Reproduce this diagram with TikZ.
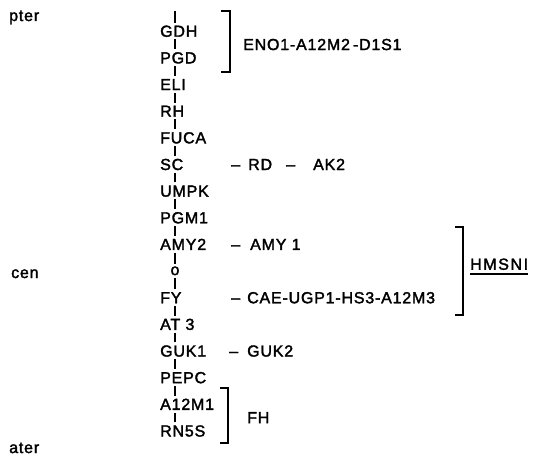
\documentclass[tikz,border=0pt]{standalone}
\usepackage{fontspec}
\setmainfont{Liberation Sans}[LetterSpace=5,FakeBold=2]
\begin{document}
\begin{tikzpicture}[x=1pt,y=-1pt,
  every node/.style={inner sep=0pt, font=\fontsize{16}{19}\selectfont},
  locus/.style={anchor=west, text height=11.5pt, text depth=0pt},
  armlabel/.style={anchor=base west},
  spine/.style={line width=1.4pt, shorten <=2.5pt, shorten >=2.5pt},
  bracket/.style={line width=1.6pt},
  side/.style={anchor=west, text height=11.5pt, text depth=0pt}]
\useasboundingbox (0,0) rectangle (535,460);

% position of the chromosome axis
\coordinate (sp) at (175,0);
\coordinate (top) at (175,11);

% arm labels
\node[armlabel] (pter) at (9,21) {pter};
\node[armlabel] (cenlab) at (11,278) {cen};
\node[armlabel] (qter) at (9,453) {ater};

% loci along the chromosome
\node[locus] (gdh)  at (160,31)    {GDH};
\node[locus] (pgd)  at (160,57.65) {PGD};
\node[locus] (eli)  at (160,84.3)  {ELI};
\node[locus] (rh)   at (160,110.95){RH};
\node[locus] (fuca) at (160,137.6) {FUCA};
\node[locus] (sc)   at (160,164.25){SC};
\node[locus] (umpk) at (160,190.9) {UMPK};
\node[locus] (pgm)  at (160,217.55){PGM1};
\node[locus] (amyb) at (160,244.2) {AMY2};
\node (cen) at (175,270.85) {o};
\node[locus] (fy)   at (160,297.5) {FY};
\node[locus] (at)   at (160,324.15){AT 3};
\node[locus] (guk)  at (160,350.8) {GUK1};
\node[locus] (pepc) at (160,377.45){PEPC};
\node[locus] (am)   at (160,404.1) {A12M1};
\node[locus] (rn)   at (160,430.75){RN5S};

% dashed axis: one dash between neighbouring loci
\draw[spine, shorten <=0pt] (top) -- (gdh.north -| sp);
\foreach \a/\b in {gdh/pgd,pgd/eli,eli/rh,rh/fuca,fuca/sc,sc/umpk,umpk/pgm,
                   pgm/amyb,amyb/cen,cen/fy,fy/at,at/guk,guk/pepc,pepc/am,am/rn}
  \draw[spine] (\a.south -| sp) -- (\b.north -| sp);

% side groups
\node[side] (eno) at (243,44.3) {ENO1-A12M2\kern3pt-D1S1};
\node[side] (rdd) at (231,164.25) {–};
\node[side] (rd)  at (248,164.25) {RD};
\node[side] (akd) at (286,164.25) {–};
\node[side] (ak)  at (313,164.25) {AK2};
\node[side] (amyd) at (231,244.2) {–};
\node[side] (amya) at (250,244.2) {AMY 1};
\node[side] (fyd) at (231,297.5) {–};
\node[side] (cae) at (247,297.5) {CAE-UGP1-HS3-A12M3};
\node[side] (gukd) at (229,350.8) {–};
\node[side] (gukb) at (247,350.8) {GUK2};
\node[side] (fh)  at (247,417.4) {FH};
\node[side] (hms) at (470,264) {\addfontfeature{LetterSpace=10}HMSNI};
\draw[line width=1.3pt] ([yshift=-4pt]hms.south west) -- ([yshift=-4pt]hms.south east);

% brackets
\draw[bracket] (221,11) -- (230,11) -- (230,72) -- (221,72);
\draw[bracket] (455,227) -- (463,227) -- (463,315) -- (455,315);
\draw[bracket] (220,388) -- (228,388) -- (228,443) -- (220,443);
\end{tikzpicture}
\end{document}
